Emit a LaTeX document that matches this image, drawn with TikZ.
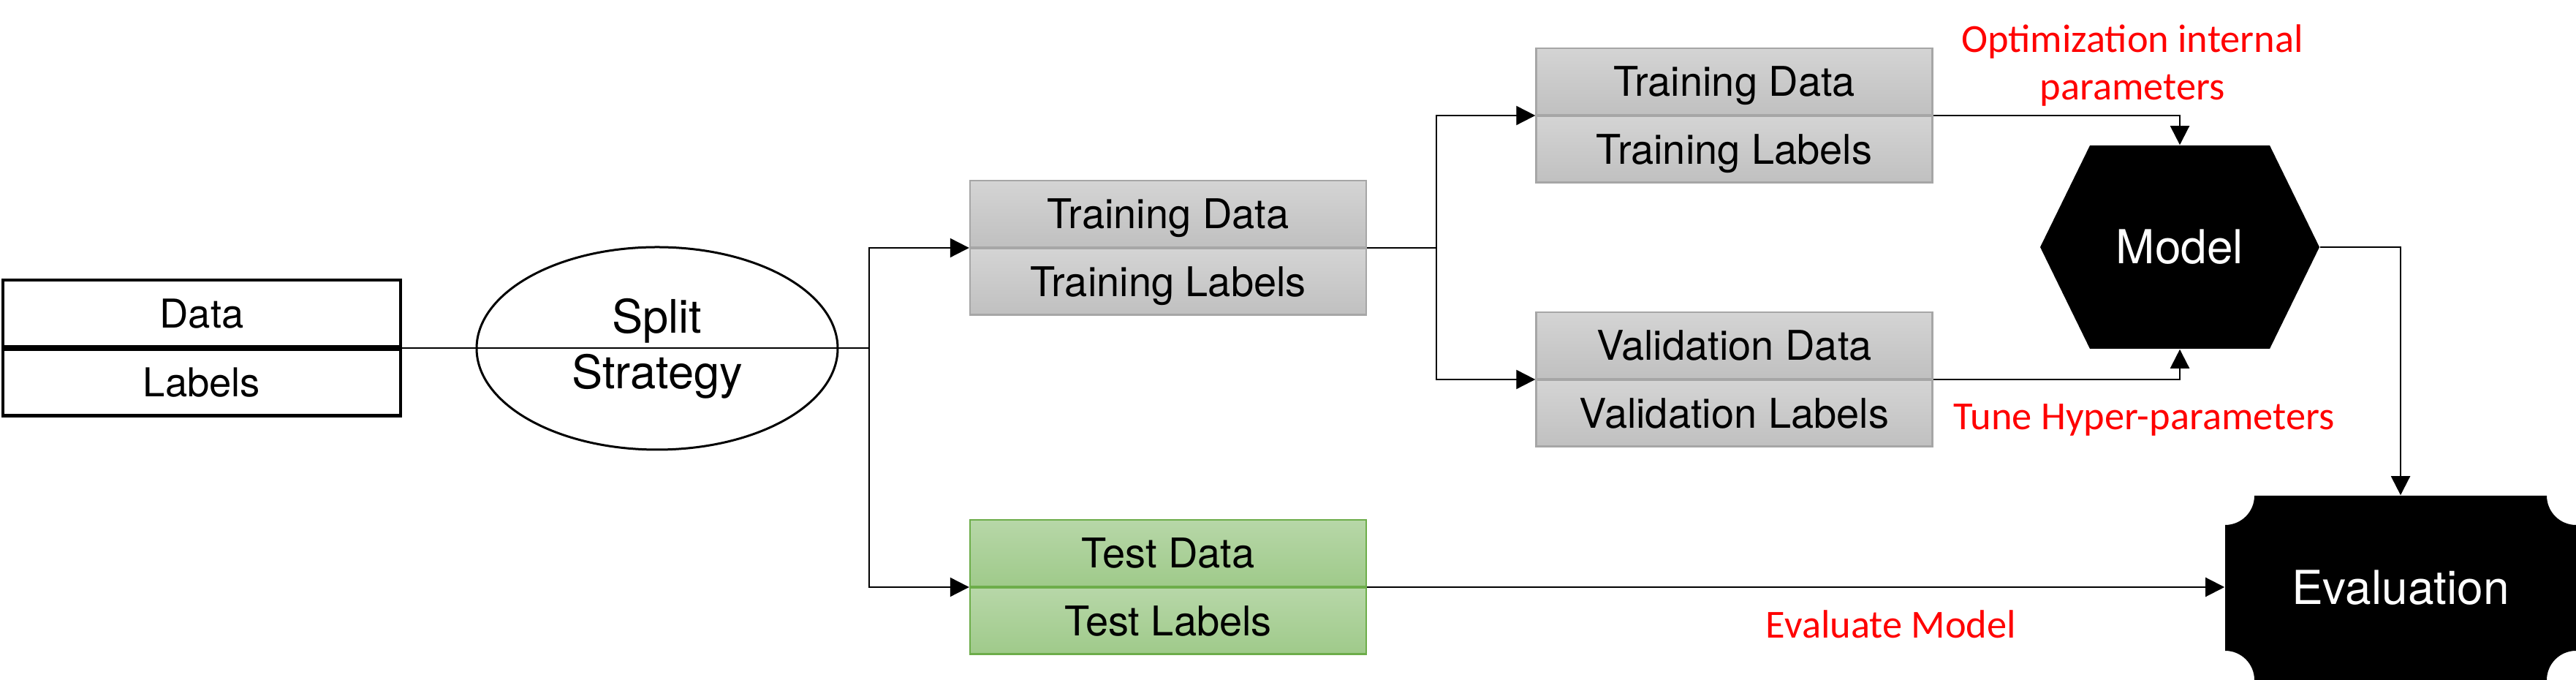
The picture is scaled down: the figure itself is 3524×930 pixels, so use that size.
\documentclass[tikz,border=0pt]{standalone}
\usepackage{fontspec}
\setmainfont{TeX Gyre Heros}
\newfontfamily\redfont{Carlito}
\usetikzlibrary{shapes.geometric,arrows.meta,calc}
\definecolor{gT}{HTML}{D4D4D4}
\definecolor{gM}{HTML}{C0C0C0}
\definecolor{gB}{HTML}{A6A6A6}
\definecolor{grT}{HTML}{B7D7A8}
\definecolor{grM}{HTML}{9FCA8A}
\definecolor{grB}{HTML}{6DAD4A}
\begin{document}
\begin{tikzpicture}[x=0.25pt,y=0.25pt,
  half/.style={rectangle, inner sep=0pt, minimum width=135.5pt, minimum height=22.625pt,
    text height=10pt, text depth=0pt, font=\fontsize{14}{16}\selectfont, line width=0.6pt},
  grayhalf/.style={half, draw=gB, top color=gT, bottom color=gM},
  greenhalf/.style={half, draw=grB, top color=grT, bottom color=grM},
  whitehalf/.style={half, draw=black, fill=white, line width=1.1pt, minimum width=136pt,
    font=\fontsize{13.6}{16}\selectfont, text height=9.75pt},
  conn/.style={line width=0.55pt},
  arr/.style={conn, -{Triangle[length=6.5pt,width=6.5pt]}},
  redlbl/.style={text=red, font=\redfont\fontsize{13.6}{16.25}\selectfont, inner sep=0pt},
  darktext/.style={text=white, inner sep=0pt, font=\fontsize{16}{19}\selectfont, text height=11.5pt, text depth=0pt},
]
\useasboundingbox (0,0) rectangle (3524,930);

% Data / Labels
\node[whitehalf, anchor=south] (dlA) at (276,454) {Data};
\node[whitehalf, anchor=north] (dlB) at (276,454) {Labels};

% Split strategy
\node[ellipse, draw, line width=0.75pt, minimum width=123.5pt, minimum height=69.25pt,
  inner sep=0pt, align=center, font=\fontsize{15.8}{19}\selectfont] (split) at (899,453.5) {Split\\Strategy};

% Training (first split)
\node[grayhalf, anchor=south] (trA) at (1598,591) {Training Data};
\node[grayhalf, anchor=north] (trB) at (1598,591) {Training Labels};

% Test
\node[greenhalf, anchor=south] (teA) at (1598,127) {Test Data};
\node[greenhalf, anchor=north] (teB) at (1598,127) {Test Labels};

% Training (second split)
\node[grayhalf, anchor=south] (t2A) at (2372.5,772) {Training Data};
\node[grayhalf, anchor=north] (t2B) at (2372.5,772) {Training Labels};

% Validation
\node[grayhalf, anchor=south] (vA) at (2372.5,411) {Validation Data};
\node[grayhalf, anchor=north] (vB) at (2372.5,411) {Validation Labels};

% Model hexagon
\coordinate (mc) at (2982,592);
\fill ($(mc)+(-191,0)$) -- ($(mc)+(-123,139)$) -- ($(mc)+(123,139)$) -- ($(mc)+(191,0)$)
  -- ($(mc)+(123,-139)$) -- ($(mc)+(-123,-139)$) -- cycle;
\node[darktext, minimum width=95.5pt, minimum height=69.5pt] (model) at (mc) {Model};

% Evaluation
\fill (3084,252) -- (3484,252) arc[start angle=180,end angle=270,radius=10pt]
  -- (3524,40) arc[start angle=90,end angle=180,radius=10pt]
  -- (3084,0) arc[start angle=0,end angle=90,radius=10pt]
  -- (3044,212) arc[start angle=270,end angle=360,radius=10pt] -- cycle;
\node[darktext, minimum width=120pt, minimum height=63pt] (eval) at (3284,126) {Evaluation};

% connectors
\coordinate (j1) at (1189,454);
\coordinate (j2) at (1965,591);
\draw[conn] (dlA.south east) -- (j1);
\draw[arr] (j1) |- (trA.south west);
\draw[arr] (j1) |- (teA.south west);
\draw[conn] (trA.south east) -- (j2);
\draw[arr] (j2) |- (t2A.south west);
\draw[arr] (j2) |- (vA.south west);
\draw[arr] (t2A.south east) -| (model.north);
\draw[arr] (vA.south east) -| (model.south);
\draw[arr] (model.east) -| (eval.north);
\draw[arr] (teA.south east) -- (teA.south east -| eval.west);

% red labels
\node[redlbl, align=center, anchor=base] (optlbl) at (2917,793) {Optimization internal\\parameters};
\node[redlbl, anchor=base] (tunelbl) at (2933,342) {Tune Hyper-parameters};
\node[redlbl, anchor=base] (evallbl) at (2587,57) {Evaluate Model};
\end{tikzpicture}
\end{document}
